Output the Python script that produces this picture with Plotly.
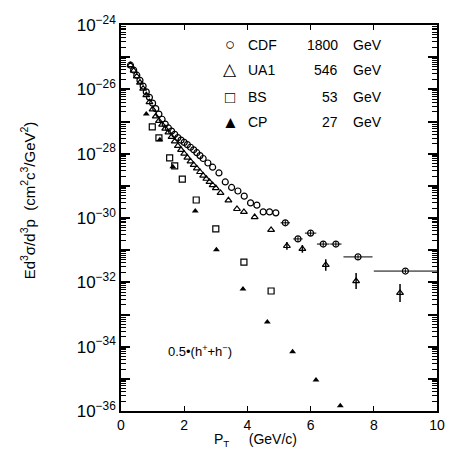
import plotly.graph_objects as go

# ---- data (log10 of E d3sigma/d3p in cm^2 c^3 / GeV^2) ----
cdf_pt = [0.3, 0.4, 0.5, 0.6, 0.7, 0.8, 0.9, 1.0, 1.1, 1.2, 1.3, 1.4, 1.5, 1.6, 1.7, 1.8, 1.9, 2.0,
          2.1, 2.2, 2.3, 2.4, 2.5, 2.6, 2.75, 2.9, 3.1, 3.3, 3.5, 3.7, 3.9, 4.1, 4.3, 4.5, 4.7, 4.9,
          5.2, 5.6, 6.0, 6.4, 6.8, 7.5, 9.0]
cdf_log = [-25.25, -25.40, -25.56, -25.72, -25.90, -26.08, -26.25, -26.43, -26.60, -26.77, -26.93,
           -27.08, -27.20, -27.30, -27.40, -27.50, -27.58, -27.65, -27.72, -27.80, -27.88, -27.97,
           -28.06, -28.15, -28.29, -28.42, -28.60, -28.88, -29.05, -29.16, -29.32, -29.53, -29.60,
           -29.81, -29.81, -29.84, -30.15, -30.65, -30.47, -30.81, -30.81, -31.21, -31.65]
cdf_xerr = [0] * 36 + [0.15, 0.15, 0.18, 0.2, 0.18, 0.46, 1.0]
cdf_yerr_dec = [0] * 36 + [0.08, 0.08, 0.08, 0.08, 0.08, 0.06, 0.06]

ua1_pt = [0.3, 0.4, 0.5, 0.6, 0.7, 0.8, 0.9, 1.0, 1.1, 1.2, 1.3, 1.4, 1.5, 1.6, 1.7, 1.8, 1.9, 2.0,
          2.1, 2.2, 2.3, 2.4, 2.5, 2.6, 2.7, 2.8, 2.9, 3.0, 3.15, 3.4, 3.67, 3.89, 4.23, 4.75,
          5.25, 5.74, 6.48, 7.44, 8.83]
ua1_log = [-25.25, -25.42, -25.60, -25.79, -25.98, -26.18, -26.40, -26.62, -26.84, -26.98, -27.10,
           -27.22, -27.34, -27.48, -27.62, -27.76, -27.88, -28.00, -28.12, -28.24, -28.35, -28.46,
           -28.57, -28.68, -28.78, -28.88, -28.98, -29.07, -29.22, -29.45, -29.72, -29.81, -29.97,
           -30.37, -30.87, -30.96, -31.46, -31.96, -32.33]
ua1_yerr_dec = [0] * 34 + [0.12, 0.12, 0.18, 0.25, 0.28]

bs_pt = [0.99, 1.20, 1.54, 1.70, 1.94, 2.38, 3.00, 3.89, 4.75]
bs_log = [-27.17, -27.51, -28.13, -28.38, -28.79, -29.44, -30.34, -31.37, -32.27]

cp_pt = [0.80, 1.23, 1.64, 2.35, 3.02, 3.86, 4.63, 5.43, 6.17, 6.94]
cp_log = [-26.77, -27.57, -28.41, -29.78, -30.99, -32.21, -33.23, -34.16, -35.04, -35.84]

legend_names = ["CDF", "UA1", "BS", "CP"]
legend_symbols = ["○", "△", "□", "▲"]
legend_energies = ["1800", "546", "53", "27"]

x_ticks = [0, 2, 4, 6, 8, 10]
y_exps = list(range(-36, -23))

FONT = "Liberation Sans, Arial, sans-serif"


def lin(v):
    return [10 ** a for a in v]


def errs(logs, dec):
    plus = [10 ** (a + d) - 10 ** a for a, d in zip(logs, dec)]
    minus = [10 ** a - 10 ** (a - d) for a, d in zip(logs, dec)]
    return plus, minus


fig = go.Figure()

cp_, cm_ = errs(cdf_log, cdf_yerr_dec)
fig.add_trace(go.Scatter(
    x=cdf_pt, y=lin(cdf_log), mode="markers",
    marker=dict(symbol="circle-open", size=6, color="black", line=dict(width=1.2)),
    error_x=dict(type="data", array=cdf_xerr, visible=True, color="black", thickness=1, width=0),
    error_y=dict(type="data", array=cp_, arrayminus=cm_, visible=True, color="black", thickness=1, width=0),
    showlegend=False))

up_, um_ = errs(ua1_log, ua1_yerr_dec)
fig.add_trace(go.Scatter(
    x=ua1_pt, y=lin(ua1_log), mode="markers",
    marker=dict(symbol="triangle-up-open", size=6, color="black", line=dict(width=1.2)),
    error_y=dict(type="data", array=up_, arrayminus=um_, visible=True, color="black", thickness=1.5, width=0),
    showlegend=False))

fig.add_trace(go.Scatter(
    x=bs_pt, y=lin(bs_log), mode="markers",
    marker=dict(symbol="square-open", size=6, color="black", line=dict(width=1.2)),
    showlegend=False))

fig.add_trace(go.Scatter(
    x=cp_pt, y=lin(cp_log), mode="markers",
    marker=dict(symbol="triangle-up", size=6, color="black"),
    showlegend=False))


def px2paper(xp, yp):
    # page pixel -> paper coords of the plot area (x 121..445, y 25..411)
    return (xp - 121) / 324, (411 - yp) / 386


rows_y = [45, 70, 97, 122]
for sym, name, en, ry in zip(legend_symbols, legend_names, legend_energies, rows_y):
    for txt, xpx, anchor, fs in [(sym, 233, "center", 17), (name, 249, "left", 14),
                                 (en, 346, "right", 14), ("GeV", 357, "left", 14)]:
        xx, yy = px2paper(xpx, ry)
        fig.add_annotation(x=xx, y=yy, xref="paper", yref="paper", text=txt, showarrow=False,
                           xanchor=anchor, yanchor="middle",
                           font=dict(family=FONT, size=fs, color="black"))

xx, yy = px2paper(167, 351)
fig.add_annotation(x=xx, y=yy, xref="paper", yref="paper",
                   text="0.5•(h<sup>+</sup>+h<sup>−</sup>)", showarrow=False,
                   xanchor="left", yanchor="middle", font=dict(family=FONT, size=13, color="black"))

xx, yy = px2paper(26, 200)
fig.add_annotation(x=xx, y=yy, xref="paper", yref="paper",
                   text="Ed<sup>3</sup>σ/d<sup>3</sup>p  (cm<sup>2</sup>c<sup>3</sup>/GeV<sup>2</sup>)",
                   showarrow=False, textangle=-90, xanchor="center", yanchor="middle",
                   font=dict(family=FONT, size=15, color="black"))

xx, yy = px2paper(214, 440)
fig.add_annotation(x=xx, y=yy, xref="paper", yref="paper",
                   text="P<sub>T</sub>     (GeV/c)", showarrow=False,
                   xanchor="left", yanchor="middle", font=dict(family=FONT, size=14, color="black"))

y_tickvals = [10 ** e for e in y_exps]
y_ticktext = [("10<sup>−%d</sup>" % (-e)) if e % 2 == 0 else " " for e in y_exps]
y_minor = [k * 10 ** e for e in y_exps[:-1] for k in range(2, 10)]

fig.update_xaxes(range=[0, 10], tickvals=x_ticks, ticktext=[str(v) for v in x_ticks],
                 ticks="inside", ticklen=5, tickwidth=1.2, tickcolor="black",
                 showline=True, linecolor="black", linewidth=1.5, mirror="allticks",
                 showgrid=False, zeroline=False,
                 tickfont=dict(family=FONT, size=14, color="black"))
fig.update_yaxes(type="log", range=[-36, -24], tickmode="array", tickvals=y_tickvals, ticktext=y_ticktext,
                 ticks="inside", ticklen=9, tickwidth=1.5, tickcolor="black",
                 minor=dict(tickmode="array", tickvals=y_minor, ticks="inside", ticklen=5,
                            tickwidth=1, tickcolor="black"),
                 showline=True, linecolor="black", linewidth=1.5, mirror="allticks",
                 showgrid=False, zeroline=False,
                 tickfont=dict(family=FONT, size=17, color="black"))

fig.update_layout(width=456, height=450, margin=dict(l=121, r=11, t=25, b=39),
                  plot_bgcolor="white", paper_bgcolor="white", showlegend=False)

fig.write_html("out.html", config={"displayModeBar": False},
               post_script="document.body.style.margin='0px';document.body.style.overflow='hidden';")
